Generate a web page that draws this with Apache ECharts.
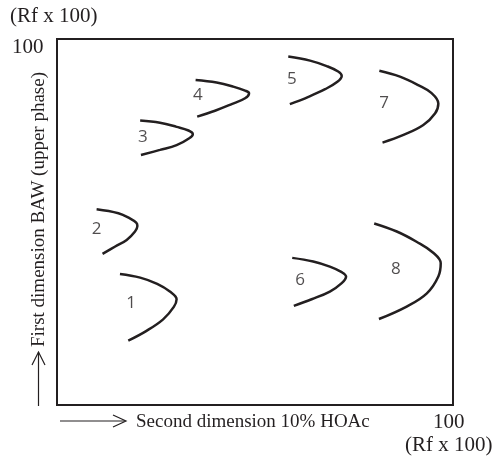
<!DOCTYPE html>
<html>
<head>
<meta charset="utf-8">
<script src="https://cdn.jsdelivr.net/npm/echarts@6/dist/echarts.min.js"></script>
<style>html,body{margin:0;padding:0;background:#fff;}#c{width:498px;height:459px;}</style>
</head>
<body>
<div id="c"></div>
<script>
// Spot outlines (Rf x 100): [second dimension, first dimension]
const spot1 = [[15.9,35.8],[21.0,34.8],[25.3,33.1],[28.5,31.0],[30.2,28.9],[29.5,26.8],[26.8,23.4],[22.5,20.2],[18.0,17.6]];
const spot2 = [[10.0,53.5],[15.5,52.4],[18.4,51.0],[20.0,49.8],[20.3,48.9],[19.7,47.4],[17.6,45.1],[14.7,43.3],[11.5,41.3]];
const spot3 = [[21.0,77.7],[26.0,77.1],[30.2,76.0],[33.2,75.0],[34.3,74.0],[33.4,72.9],[30.2,71.0],[26.0,69.7],[21.2,68.3]];
const spot4 = [[35.0,88.8],[40.3,88.1],[44.5,87.0],[47.5,85.9],[48.5,85.2],[47.5,83.8],[44.1,82.2],[39.9,80.4],[35.4,78.8]];
const spot5 = [[58.4,95.2],[63.9,94.1],[68.1,92.6],[71.0,91.1],[71.9,89.9],[70.8,88.3],[67.7,86.3],[63.5,84.2],[58.8,82.2]];
const spot6 = [[59.4,40.2],[64.7,39.2],[68.9,37.8],[71.9,36.3],[73.0,35.1],[71.9,33.3],[68.9,31.0],[64.3,28.9],[59.8,27.1]];
const spot7 = [[81.4,91.3],[86.6,89.7],[91.2,87.4],[94.6,85.2],[96.3,82.4],[95.5,79.7],[92.5,76.5],[87.5,73.8],[82.2,71.7]];
const spot8 = [[80.1,49.6],[85.8,47.4],[90.8,44.6],[95.0,41.6],[96.9,38.7],[96.3,35.1],[93.4,30.5],[88.3,26.9],[81.3,23.5]];
const spotNames = ['1','2','3','4','5','6','7','8'];
const spotLabelPos = [[18.7,27.9],[10.0,48.1],[21.7,73.3],[35.6,84.7],[59.3,89.0],[61.4,34.2],[82.6,82.4],[85.6,37.1]];
const axisMin = 0, axisMax = 100;

const spots = [spot1, spot2, spot3, spot4, spot5, spot6, spot7, spot8];
const ink = '#231f20';
const serif = '"Liberation Serif", "DejaVu Serif", serif';

const chart = echarts.init(document.getElementById('c'));
const series = spots.map((pts, i) => ({
  type: 'line',
  name: 'spot ' + spotNames[i],
  data: pts,
  smooth: 0.4,
  showSymbol: false,
  lineStyle: { color: ink, width: 2.5 },
  silent: true
}));
series.push({
  type: 'scatter',
  data: spotLabelPos.map((p, i) => ({ value: p, name: spotNames[i] })),
  symbolSize: 1,
  itemStyle: { color: 'rgba(0,0,0,0)' },
  label: {
    show: true, position: 'inside', formatter: p => p.name,
    color: ink, fontSize: 17, fontFamily: '"Open Sans", "Noto Sans", sans-serif'
  },
  silent: true
});

chart.setOption({
  animation: false,
  backgroundColor: '#fff',
  grid: { left: 57, top: 39, width: 396, height: 366, show: true, borderColor: ink, borderWidth: 2, backgroundColor: 'transparent' },
  xAxis: { type: 'value', min: axisMin, max: axisMax, axisLine: { show: false }, axisTick: { show: false }, axisLabel: { show: false }, splitLine: { show: false } },
  yAxis: { type: 'value', min: axisMin, max: axisMax, axisLine: { show: false }, axisTick: { show: false }, axisLabel: { show: false }, splitLine: { show: false } },
  series: series,
  graphic: [
    { type: 'text', left: 10, top: 6, style: { text: '(Rf x 100)', font: '21px ' + serif, fill: ink } },
    { type: 'text', left: 12, top: 37, style: { text: String(axisMax), font: '21px ' + serif, fill: ink } },
    { type: 'text', left: 433, top: 412, style: { text: String(axisMax), font: '21px ' + serif, fill: ink } },
    { type: 'text', left: 405, top: 435, style: { text: '(Rf x 100)', font: '21px ' + serif, fill: ink } },
    { type: 'text', x: 136, y: 422, style: { text: 'Second dimension 10% HOAc', font: '19px ' + serif, fill: ink, verticalAlign: 'middle', align: 'left' } },
    { type: 'text', x: 39, y: 347, rotation: Math.PI / 2, style: { text: 'First dimension BAW (upper phase)', font: '19px ' + serif, fill: ink, verticalAlign: 'middle', align: 'left' } },
    // x arrow
    { type: 'line', shape: { x1: 60, y1: 421, x2: 125, y2: 421 }, style: { stroke: ink, lineWidth: 1.2 } },
    { type: 'polyline', shape: { points: [[113, 415], [126, 421], [113, 427]] }, style: { stroke: ink, lineWidth: 1.2, fill: null } },
    // y arrow
    { type: 'line', shape: { x1: 38.5, y1: 352, x2: 38.5, y2: 406 }, style: { stroke: ink, lineWidth: 1.2 } },
    { type: 'polyline', shape: { points: [[32, 365], [38.5, 352], [45, 365]] }, style: { stroke: ink, lineWidth: 1.2, fill: null } }
  ]
});
</script>
</body>
</html>
